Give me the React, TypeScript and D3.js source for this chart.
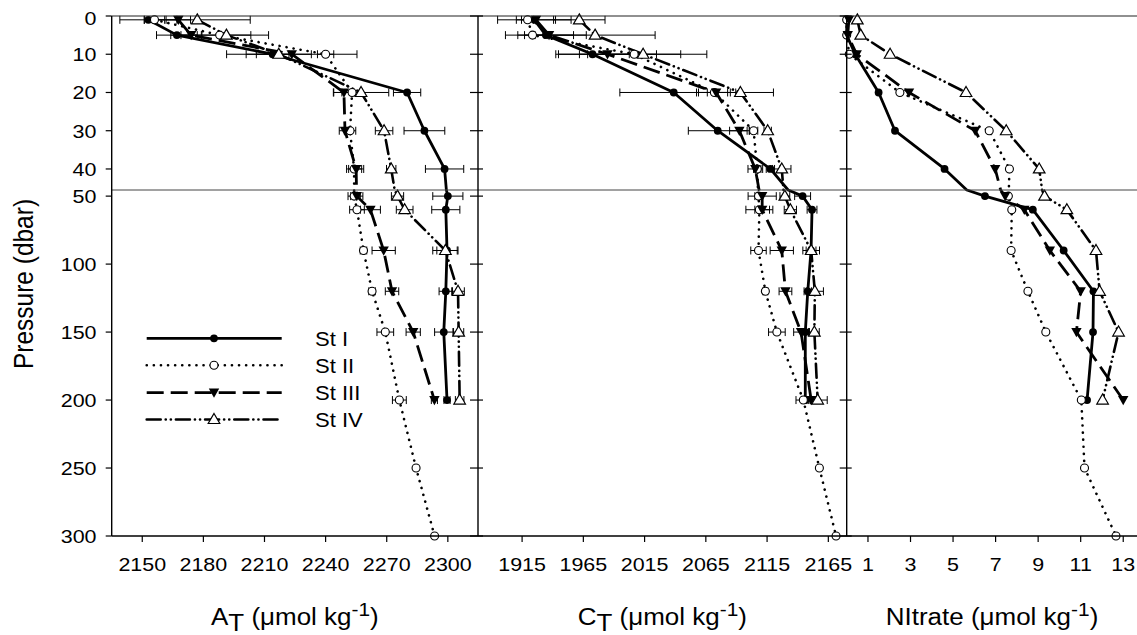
import React from 'react';
import * as d3 from 'd3';

const W = 1137;
const H = 635;

const stations = ['St I', 'St II', 'St III', 'St IV'];
const depthsMain = [1, 5, 10, 20, 30, 40, 50, 60, 90, 120, 150, 200];
const depthsStII = [1, 5, 10, 20, 30, 40, 50, 60, 90, 120, 150, 200, 250, 300];
const pressureTicks = [0, 10, 20, 30, 40, 50, 100, 150, 200, 250, 300];

const atTicks = [2150, 2180, 2210, 2240, 2270, 2300];
const ctTicks = [1915, 1965, 2015, 2065, 2115, 2165];
const no3Ticks = [1, 3, 5, 7, 9, 11, 13];

// Total alkalinity A_T
const atI = [2153, 2167, 2214, 2280, 2288.5, 2298.4, 2300, 2299, 2299.6, 2299, 2298, 2299.6];
const atIErr = [14, 10, 8, 6.7, 10, 9.4, 7.4, 6.9, 5, 3.3, 4.5, 1.5];
const atII = [2156, 2188, 2240, 2253, 2252, 2254, 2254, 2255.4, 2258.6, 2262.8, 2269.3, 2276.2, 2284.4, 2293.5];
const atIIErr = [5, 24, 4, 5, 2.8, 3.7, 3, 3.6, 1.6, 1.6, 4.1, 3.4, 0, 0];
const atIII = [2167.7, 2174, 2223.4, 2249, 2249.5, 2255, 2255.3, 2262, 2268.5, 2272.6, 2283, 2293.4];
const atIIIErr = [6, 5, 32, 5, 2.8, 3.7, 3, 4.9, 5.7, 3.3, 3.5, 1.5];
const atIV = [2177, 2191.3, 2217, 2257.4, 2268.7, 2272.2, 2275.3, 2278.8, 2298.8, 2305, 2305.3, 2305.8];
const atIVErr = [26, 12, 16, 13.6, 4.3, 2.3, 3, 4.1, 6.2, 3.1, 2.5, 2.1];

// Total dissolved inorganic carbon C_T
const ctI = [1925, 1934.4, 1972.5, 2038.8, 2074.7, 2117.7, 2144, 2151.7, 2150.9, 2148.2, 2146.2, 2146.2];
const ctIErr = [30, 33, 30, 44, 24, 3.4, 6.5, 4, 4, 3, 3, 3];
const ctII = [1919.5, 1923.5, 2006.5, 2072, 2104, 2107, 2108, 2108.7, 2108, 2113.6, 2123, 2144.6, 2157.7, 2171.3];
const ctIIErr = [5, 12, 38, 13, 3.4, 3, 3, 11, 6.3, 2, 6.8, 6, 0, 0];
const ctIII = [1926.3, 1937, 1984.7, 2073.4, 2092.4, 2105.4, 2111, 2111, 2127, 2130, 2142.7, 2151];
const ctIIIErr = [16, 20, 40, 16, 8, 6, 11.5, 6, 9.5, 5.2, 6, 4];
const ctIV = [1961.7, 1974.6, 2013.8, 2093.2, 2115.5, 2127, 2129.5, 2134, 2151, 2154, 2153.6, 2156.3];
const ctIVErr = [21, 49, 52, 27, 3, 7.5, 4, 5, 6.8, 7, 4, 7.8];

// Nitrate
const no3I = [0, 0, 0.4, 1.5, 2.27, 4.6, 6.5, 8.75, 10.2, 11.6, 11.58, 11.3];
const no3II = [0, 0, 0.12, 2.5, 6.7, 7.65, 7.6, 7.76, 7.73, 8.52, 9.36, 11.03, 11.18, 12.66];
const no3III = [0.1, 0.05, 0.47, 2.93, 6.04, 6.98, 7.45, 8.35, 9.55, 11.0, 10.8, 13.0];
const no3IV = [0.5, 0.66, 2.04, 5.61, 7.5, 9.05, 9.3, 10.35, 11.72, 11.89, 12.78, 12.03];

const BREAK = 45.5;
const TOP = 16;
const BOT = 536;
const FONT = 'Liberation Sans, Arial, Helvetica, sans-serif';
const SX = 1.13;

const yScale = d3.scaleLinear().domain([0, BREAK, 300]).range([TOP, 190, BOT]);

type Series = { depths: number[]; vals: number[]; err?: number[] };

const styles = [
  { dash: undefined as string | undefined, cap: 'butt', width: 2.8, marker: 'dot' },
  { dash: '0.1 7', cap: 'round', width: 2.6, marker: 'circle' },
  { dash: '17 7', cap: 'butt', width: 2.8, marker: 'tridown' },
  { dash: '14 5 0.1 5 0.1 5', cap: 'round', width: 2.6, marker: 'triup' },
];

function withBreak(ds: number[], vs: number[]): [number, number][] {
  const pts: [number, number][] = [];
  for (let i = 0; i < ds.length; i++) {
    if (i > 0 && ds[i - 1] < BREAK && ds[i] > BREAK) {
      const t = (BREAK - ds[i - 1]) / (ds[i] - ds[i - 1]);
      pts.push([BREAK, vs[i - 1] + t * (vs[i] - vs[i - 1])]);
    }
    pts.push([ds[i], vs[i]]);
  }
  return pts;
}

function Marker({ kind, x, y }: { kind: string; x: number; y: number }) {
  if (kind === 'dot') return <circle cx={x} cy={y} r={3.9} fill="#000" />;
  if (kind === 'circle') return <circle cx={x} cy={y} r={4} fill="#fff" stroke="#000" strokeWidth={1.1} />;
  if (kind === 'tridown')
    return <path d={`M${x - 5.2},${y - 4} L${x + 5.2},${y - 4} L${x},${y + 5.2} Z`} fill="#000" />;
  return (
    <path
      d={`M${x},${y - 6} L${x + 5.8},${y + 4} L${x - 5.8},${y + 4} Z`}
      fill="#fff"
      stroke="#000"
      strokeWidth={1.2}
      strokeLinejoin="miter"
    />
  );
}

function Txt({
  x,
  y,
  size = 19,
  anchor = 'middle',
  rotate = false,
  children,
}: {
  x: number;
  y: number;
  size?: number;
  anchor?: string;
  rotate?: boolean;
  children: any;
}) {
  return (
    <g transform={`translate(${x},${y}) scale(${SX},1)${rotate ? ' rotate(-90)' : ''}`}>
      <text textAnchor={anchor as any} fontSize={size} fontFamily={FONT} fill="#000">
        {children}
      </text>
    </g>
  );
}

function Panel({
  x0,
  domain,
  rangeEnd,
  ticks,
  series,
}: {
  x0: number;
  domain: [number, number];
  rangeEnd: number;
  ticks: number[];
  series: Series[];
}) {
  const xs = d3.scaleLinear().domain(domain).range([x0, rangeEnd]);
  const line = d3
    .line<[number, number]>()
    .x((p) => xs(p[1]))
    .y((p) => yScale(p[0]));
  return (
    <g>
      {series.map((s, si) =>
        s.err
          ? s.depths.map((d, i) => {
              const e = s.err![i];
              if (!e) return null;
              const y = yScale(d);
              const a = xs(s.vals[i] - e);
              const b = xs(s.vals[i] + e);
              return (
                <g key={`e${si}-${i}`} stroke="#000" strokeWidth={1}>
                  <line x1={a} x2={b} y1={y} y2={y} />
                  <line x1={a} x2={a} y1={y - 4} y2={y + 4} />
                  <line x1={b} x2={b} y1={y - 4} y2={y + 4} />
                </g>
              );
            })
          : null
      )}
      {series.map((s, si) => (
        <path
          key={`l${si}`}
          d={line(withBreak(s.depths, s.vals)) || ''}
          fill="none"
          stroke="#000"
          strokeWidth={styles[si].width}
          strokeDasharray={styles[si].dash}
          strokeLinecap={styles[si].cap as any}
          strokeLinejoin="round"
        />
      ))}
      {series.map((s, si) =>
        s.depths.map((d, i) => (
          <Marker key={`m${si}-${i}`} kind={styles[si].marker} x={xs(s.vals[i])} y={yScale(d)} />
        ))
      )}
      {ticks.map((t) => (
        <g key={`t${t}`}>
          <line x1={xs(t)} x2={xs(t)} y1={BOT} y2={BOT + 6} stroke="#000" strokeWidth={1.2} />
          <Txt x={xs(t)} y={571}>
            {String(t)}
          </Txt>
        </g>
      ))}
    </g>
  );
}

export default function App() {
  const p1 = 111.7;
  const p2 = 478;
  const p3 = 846.7;

  const atSeries: Series[] = [
    { depths: depthsMain, vals: atI, err: atIErr },
    { depths: depthsStII, vals: atII, err: atIIErr },
    { depths: depthsMain, vals: atIII, err: atIIIErr },
    { depths: depthsMain, vals: atIV, err: atIVErr },
  ];
  const ctSeries: Series[] = [
    { depths: depthsMain, vals: ctI, err: ctIErr },
    { depths: depthsStII, vals: ctII, err: ctIIErr },
    { depths: depthsMain, vals: ctIII, err: ctIIIErr },
    { depths: depthsMain, vals: ctIV, err: ctIVErr },
  ];
  const no3Series: Series[] = [
    { depths: depthsMain, vals: no3I },
    { depths: depthsStII, vals: no3II },
    { depths: depthsMain, vals: no3III },
    { depths: depthsMain, vals: no3IV },
  ];

  const legendY = [338.3, 365.3, 392.6, 419.5];

  return (
    <svg
      width={W}
      height={H}
      viewBox={`0 0 ${W} ${H}`}
      style={{ position: 'absolute', left: 0, top: 0, background: '#fff' }}
    >
      <rect x={0} y={0} width={W} height={H} fill="#fff" />

      <Panel x0={p1} domain={[2135, 2315]} rangeEnd={478.4} ticks={atTicks} series={atSeries} />
      <Panel x0={p2} domain={[1879, 2180]} rangeEnd={846.7} ticks={ctTicks} series={ctSeries} />
      <Panel x0={p3} domain={[0, 14]} rangeEnd={1144.5} ticks={no3Ticks} series={no3Series} />

      <line x1={p1} x2={W} y1={TOP} y2={TOP} stroke="#222" strokeWidth={1.2} />
      <line x1={p1} x2={W} y1={190} y2={190} stroke="#444" strokeWidth={1} />
      <line x1={p1} x2={W} y1={BOT} y2={BOT} stroke="#000" strokeWidth={1.4} />
      {[p1, p2, p3].map((x) => (
        <line key={`v${x}`} x1={x} x2={x} y1={TOP} y2={BOT} stroke="#000" strokeWidth={1.4} />
      ))}

      {pressureTicks.map((t) => {
        const y = yScale(t);
        return (
          <g key={`y${t}`} stroke="#000" strokeWidth={1.2}>
            <line x1={p1 - 6} x2={p1} y1={y} y2={y} />
            <line x1={p2 - 8} x2={p2 + 5} y1={y} y2={y} />
            <line x1={p3 - 7} x2={p3 + 5} y1={y} y2={y} />
          </g>
        );
      })}
      {pressureTicks.map((t) => (
        <Txt key={`yl${t}`} x={96.5} y={Math.max(yScale(t), 18.3) + 6.8} anchor="end">
          {String(t)}
        </Txt>
      ))}

      <Txt x={33} y={284} size={24.5} rotate>
        Pressure (dbar)
      </Txt>

      <Txt x={(p1 + p2) / 2} y={624.5} size={23}>
        A<tspan dy={6}>T</tspan>
        <tspan dy={-6}> (μmol kg</tspan>
        <tspan dy={-8.5} fontSize={18.5}>-1</tspan>
        <tspan dy={8.5}>)</tspan>
      </Txt>
      <Txt x={(p2 + p3) / 2} y={624.5} size={23}>
        C<tspan dy={6}>T</tspan>
        <tspan dy={-6}> (μmol kg</tspan>
        <tspan dy={-8.5} fontSize={18.5}>-1</tspan>
        <tspan dy={8.5}>)</tspan>
      </Txt>
      <Txt x={992} y={624.5} size={23}>
        NItrate (μmol kg
        <tspan dy={-8.5} fontSize={18.5}>-1</tspan>
        <tspan dy={8.5}>)</tspan>
      </Txt>

      {stations.map((name, i) => (
        <g key={`lg${i}`}>
          <line
            x1={146.7}
            x2={281.7}
            y1={legendY[i]}
            y2={legendY[i]}
            stroke="#000"
            strokeWidth={styles[i].width}
            strokeDasharray={styles[i].dash}
            strokeLinecap={styles[i].cap as any}
          />
          <Marker kind={styles[i].marker} x={214} y={legendY[i]} />
          <Txt x={315} y={legendY[i] + 7.3} size={19.5} anchor="start">
            {name}
          </Txt>
        </g>
      ))}
    </svg>
  );
}
